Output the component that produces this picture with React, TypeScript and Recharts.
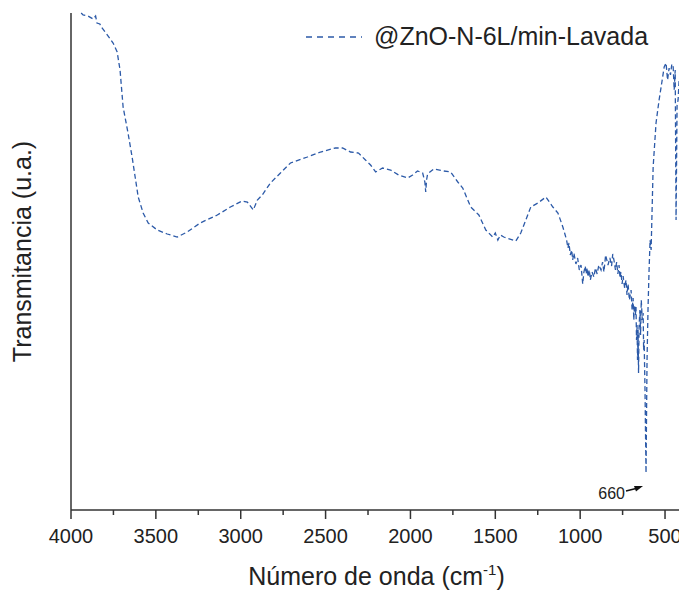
import React from 'react';
import { LineChart, Line, XAxis, YAxis, Legend, ReferenceDot } from 'recharts';

// FTIR spectrum (transmittance in arbitrary units)
const WAVENUMBER = [
  3940, 3929, 3900, 3870, 3855, 3847, 3830, 3817, 3790, 3752, 3728, 3711, 3693, 3664, 3640, 3622,
  3604, 3575, 3545, 3492, 3433, 3374, 3315, 3239, 3138, 3061, 2991, 2961, 2926, 2902, 2873, 2825,
  2766, 2707, 2607, 2530, 2442, 2400, 2353, 2306, 2265, 2235, 2205, 2164, 2117, 2070, 2017, 1987,
  1958, 1928, 1915, 1910, 1905, 1899, 1863, 1804, 1763, 1721, 1692, 1645, 1597, 1556, 1515, 1500,
  1485, 1470, 1450, 1379, 1350, 1320, 1291, 1249, 1202, 1161, 1131, 1102, 1090, 1080, 1072, 1066,
  1058, 1050, 1044, 1037, 1025, 1015, 1005, 995, 985, 978, 970, 965, 958, 954, 946, 940,
  930, 919, 910, 900, 890, 877, 868, 860, 850, 836, 825, 815, 808, 801, 792, 785,
  778, 771, 765, 760, 753, 747, 738, 730, 724, 718, 710, 700, 694, 688, 684, 680,
  675, 671, 668, 665, 662, 659, 656, 653, 648, 644, 640, 634, 629, 626, 623, 618,
  612, 606, 600, 594, 588, 582, 570, 553, 535, 523, 505, 494, 485, 476, 468, 460,
  452, 446, 440, 435, 429, 423, 417, 405,
];
const TRANSMITTANCE = [
  497, 495, 494, 491, 494, 487, 486, 482, 476, 467, 458, 440, 403, 377, 353, 333,
  313, 297, 287, 280, 276, 273, 278, 287, 295, 303, 309, 308, 300, 310, 315, 327,
  337, 347, 353, 358, 362, 362, 358, 357, 350, 345, 338, 342, 340, 335, 332, 335,
  339, 337, 328, 318, 330, 336, 341, 339, 338, 328, 322, 303, 295, 280, 273, 277,
  270, 275, 273, 269, 277, 290, 303, 307, 313, 303, 297, 283, 276, 270, 262, 267,
  255, 260, 250, 257, 246, 252, 240, 245, 226, 238, 244, 236, 242, 233, 240, 230,
  238, 233, 242, 236, 245, 240, 248, 238, 255, 245, 252, 244, 256, 250, 240, 248,
  236, 245, 232, 238, 226, 234, 222, 230, 215, 226, 210, 220, 200, 212, 190, 205,
  195, 203, 170, 185, 150, 180, 137, 183, 200, 175, 210, 190, 197, 160, 170, 120,
  37, 150, 203, 240, 270, 260, 343, 387, 410, 423, 443, 447, 430, 442, 435, 446,
  443, 420, 440, 290, 405, 410, 430, 425,
];
const X_TICKS = [4000, 3750, 3500, 3250, 3000, 2750, 2500, 2250, 2000, 1750, 1500, 1250, 1000, 750, 500];
const SERIES_NAME = '@ZnO-N-6L/min-Lavada';
const PEAK_LABEL = '660';

const data = WAVENUMBER.map((wn, i) => ({ wn, t: TRANSMITTANCE[i] }));

const FONT = '"Liberation Sans", Arial, sans-serif';
const AXIS = '#333';
const BLUE = '#2c5aa8';

const XTick = (props: any) => {
  const { x, y, payload } = props;
  const major = payload.value % 500 === 0;
  return (
    <g>
      <line x1={x} x2={x} y1={y - 9} y2={major ? y : y - 4} stroke={AXIS} strokeWidth={1.5} />
      {major && (
        <text x={x} y={y + 24} textAnchor="middle" fontSize={20} fontFamily={FONT} fill="#222">
          {payload.value}
        </text>
      )}
    </g>
  );
};

const PeakMark = (props: any) => {
  const { cx, cy } = props;
  return (
    <g>
      <text x={cx - 1} y={cy + 8} textAnchor="end" fontSize={16} fontFamily={FONT} fill="#222">
        {PEAK_LABEL}
      </text>
      <line x1={cx} y1={cy} x2={cx + 10} y2={cy - 2.5} stroke="#111" strokeWidth={1.4} />
      <polygon points={`${cx + 17},${cy - 5} ${cx + 8},${cy - 5} ${cx + 10},${cy + 0.5}`} fill="#111" />
    </g>
  );
};

const LegendBox = () => (
  <div style={{ display: 'flex', alignItems: 'center', fontFamily: FONT, fontSize: 25, color: '#222', whiteSpace: 'nowrap' }}>
    <svg width={56} height={10}>
      <line x1={0} y1={5} x2={56} y2={5} stroke={BLUE} strokeWidth={1.3} strokeDasharray="6 5" />
    </svg>
    <span style={{ marginLeft: 12 }}>{SERIES_NAME}</span>
  </div>
);

export default function App() {
  return (
    <div style={{ width: 679, height: 592, overflow: 'hidden', position: 'relative', background: '#fff' }}>
      <style>{'body{margin:0}'}</style>
      <LineChart width={690} height={592} data={data} margin={{ top: 13, right: 8, bottom: 0, left: 0 }}>
        <XAxis
          dataKey="wn"
          type="number"
          domain={[400, 4000]}
          reversed
          ticks={X_TICKS}
          interval={0}
          height={82}
          tickSize={9}
          tickMargin={0}
          tickLine={false}
          tick={<XTick />}
          axisLine={{ stroke: AXIS, strokeWidth: 1.5 }}
          label={{
            content: (p: any) => {
              const vb = p.viewBox;
              return (
                <text x={vb.x + vb.width / 2} y={vb.y + 75} textAnchor="middle" fontSize={25} fontFamily={FONT} fill="#222">
                  Número de onda (cm
                  <tspan fontSize={15} dy={-10}>-1</tspan>
                  <tspan dy={10}>)</tspan>
                </text>
              );
            },
          }}
        />
        <XAxis
          xAxisId="top"
          orientation="top"
          dataKey="wn"
          type="number"
          domain={[400, 4000]}
          reversed
          height={0}
          tick={false}
          tickLine={false}
          axisLine={{ stroke: AXIS, strokeWidth: 1.5 }}
        />
        <YAxis
          type="number"
          domain={[0, 497]}
          width={71}
          tick={false}
          tickLine={false}
          axisLine={{ stroke: AXIS, strokeWidth: 1.5 }}
          label={{
            content: (p: any) => {
              const vb = p.viewBox;
              const cy = vb.y + vb.height / 2 - 10;
              return (
                <text x={31} y={cy} transform={`rotate(-90, 31, ${cy})`} textAnchor="middle" fontSize={25} fontFamily={FONT} fill="#222">
                  Transmitancia (u.a.)
                </text>
              );
            },
          }}
        />
        <Legend
          layout="horizontal"
          verticalAlign="middle"
          align="center"
          content={<LegendBox />}
          wrapperStyle={{ top: 22, left: 306, width: 'auto' }}
        />
        <Line
          dataKey="t"
          name={SERIES_NAME}
          type="linear"
          stroke={BLUE}
          strokeWidth={1.3}
          strokeDasharray="5 3"
          dot={false}
          activeDot={false}
          isAnimationActive={false}
        />
        <ReferenceDot x={730} y={19} r={0} shape={<PeakMark />} />
      </LineChart>
    </div>
  );
}
